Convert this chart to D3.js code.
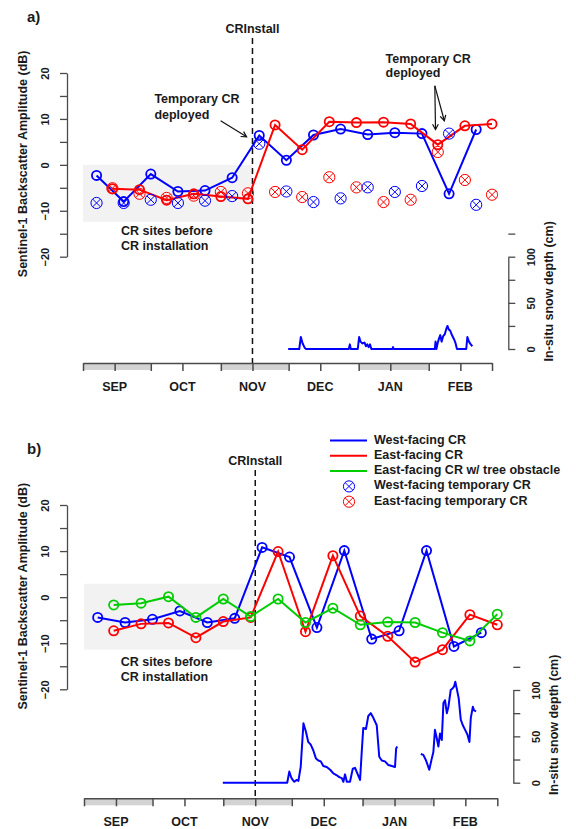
<!DOCTYPE html>
<html>
<head>
<meta charset="utf-8">
<script src="https://cdn.jsdelivr.net/npm/d3@7"></script>
<style>
  body { margin: 0; background: #fff; }
  svg text { font-family: "Liberation Sans", Arial, sans-serif; font-weight: bold; fill: #1a1a1a; }
</style>
</head>
<body>
<svg id="chart" width="576" height="829"></svg>
<script>
'use strict';

const parseDate = d3.timeParse('%Y-%m-%d');

const seasonStart = parseDate('2018-09-01');
const seasonEnd = parseDate('2019-03-01');
const crInstall = parseDate('2018-11-15');

const monthLabels = ['SEP', 'OCT', 'NOV', 'DEC', 'JAN', 'FEB'];
const dbTicks = [-20, -15, -10, -5, 0, 5, 10, 15, 20];
const snowTicks = [0, 25, 50, 75, 100, 125];

// acquisition dates (12 day repeat)
const westDates = ['2018-09-07', '2018-09-19', '2018-10-01', '2018-10-13', '2018-10-25', '2018-11-06', '2018-11-18',
    '2018-11-30', '2018-12-12', '2018-12-24', '2019-01-05', '2019-01-17', '2019-01-29', '2019-02-10', '2019-02-22'];
const eastDates = ['2018-09-14', '2018-09-26', '2018-10-08', '2018-10-20', '2018-11-01', '2018-11-13', '2018-11-25',
    '2018-12-07', '2018-12-19', '2018-12-31', '2019-01-12', '2019-01-24', '2019-02-05', '2019-02-17', '2019-03-01'];

// panel a
const westA = [-2.3, -8.0, -2.0, -5.8, -5.6, -2.8, 6.4, 1.0, 6.5, 7.8, 6.6, 7.0, 6.8, -6.3, 7.7];
const eastA = [-5.2, -5.4, -7.7, -6.3, -6.9, -7.4, 8.7, 3.3, 9.4, 9.2, 9.3, 8.9, 4.4, 8.5, 8.9];
const westTempA = [-8.3, -8.3, -7.6, -8.3, -7.8, -6.8, 4.6, -5.8, -8.1, -7.3, -4.9, -5.9, -4.6, 6.8, -8.7];
const eastTempA = [-5.1, -6.3, -7.2, -6.7, -5.9, -6.2, -5.9, -7.0, -2.7, -4.9, -8.1, -7.6, 2.8, -3.3, -6.5];

// panel b
const westB = [-4.4, -5.5, -4.8, -3.0, -5.5, -4.6, 10.8, 8.7, -6.6, 10.1, -9.1, -7.3, 10.1, -10.7, -7.7];
const eastB = [-7.3, -5.8, -5.6, -8.8, -5.3, -4.4, 9.9, -7.5, 9.0, -4.1, -8.5, -14.1, -11.4, -3.8, -6.0];
const treeB = [-1.7, -1.3, 0.1, -4.4, -0.4, -4.2, -0.4, -5.5, -2.4, -6.0, -5.4, -5.5, -7.7, -9.5, -3.7];

// in-situ snow depth: [days since Sep 1, cm], null = gap
const snowA = [[90.8, 0], [95.7, 0], [96.4, 13], [97.2, 6], [98.2, 1], [98.7, 0], [117.6, 0], [118.1, 5], [118.5, 0],
    [121.6, 0], [122.2, 13], [122.8, 8], [123.7, 6], [124.6, 7], [125.2, 3], [125.8, 5], [126.4, 2], [127, 5],
    [127.6, 0], [136.9, 0], [137.2, 2], [137.5, 0], [155.7, 0], [156, 8], [156.4, 0], [156.9, 6], [157.5, 11],
    [158.1, 15], [158.7, 8], [159.4, 14], [160.1, 16], [160.8, 22], [161.3, 25], [161.9, 21], [162.5, 20],
    [163.1, 16], [163.7, 13], [164.3, 10], [164.9, 6], [165.5, 0], [169.6, 0], [170.1, 13], [170.8, 8],
    [171.6, 5], [172.3, 3]];
const snowB = [[60.8, 0], [89.0, 0], [89.9, 12], [90.7, 6], [91.4, 3], [92.1, 1], [93.2, 3], [93.9, 2], [94.9, 17],
    [96.1, 64], [97.2, 55], [98.2, 44], [99.3, 41], [100.4, 35], [101.6, 26], [102.6, 24], [103.7, 23], [104.8, 18],
    [106.3, 17], [107.8, 14], [109.2, 10], [110.7, 8], [111.8, 6], [112.9, 5], [113.6, 1], [114.3, 9], [115.1, 1],
    [116.5, 1], [117.7, 15], [118.7, 16], [119.7, 10], [120.9, 3], [121.6, 32], [122.3, 59], [123.5, 58],
    [124.5, 72], [125.6, 75], [126.7, 70], [128.2, 62], [129.3, 28], [130.4, 24], [131.8, 23], [133.3, 19],
    [134.8, 18], [136.2, 17], [136.7, 37], [137.2, 39], null,
    [147.5, 31], [148.6, 30], [149.8, 24], [151.2, 14], [152.3, 26], [153, 33], [153.7, 57], [154.5, 48],
    [155.2, 39], [155.9, 53], [156.7, 46], [157.4, 86], [158.1, 89], [158.9, 75], [159.6, 82], [160.6, 100],
    [161.5, 102], [162.1, 104], [162.6, 109], [163.2, 102], [164.1, 91], [165, 68], [165.9, 62], [166.9, 57],
    [167.9, 52], [168.8, 44], [169.4, 70], [170.3, 82], [170.8, 78], [171.7, 77]];

const legendLabels = ['West-facing CR', 'East-facing CR', 'East-facing CR w/ tree obstacle',
    'West-facing temporary CR', 'East-facing temporary CR'];

const BLUE = '#0000ff';
const RED = '#ff0000';
const GREEN = '#00cd00';
const AXIS = '#4a4a4a';

const svg = d3.select('#chart');

function dayToDate(d) {
    return new Date(seasonStart.getTime() + d * 86400000);
}

function drawPanel(p) {
    const g = svg.append('g');
    const x = d3.scaleTime().domain([seasonStart, seasonEnd]).range(p.xRange);
    const y = d3.scaleLinear().domain([-20, 20]).range(p.yRange);
    const ySnow = d3.scaleLinear().domain([0, 100]).range(p.snowRange);

    // grey area before CR installation
    g.append('rect')
        .attr('x', x(seasonStart))
        .attr('width', x(crInstall) - x(seasonStart))
        .attr('y', y(p.shade[0]))
        .attr('height', y(p.shade[1]) - y(p.shade[0]))
        .attr('fill', '#f2f2f2');

    // left axis
    const yAxis = d3.axisLeft(y).tickValues(dbTicks).tickSize(7).tickSizeOuter(0)
        .tickFormat(d => d % 10 === 0 ? d3.format('d')(d) : '');
    const ya = g.append('g').attr('transform', `translate(${p.leftX},0)`).call(yAxis);
    ya.selectAll('path, line').attr('stroke', AXIS).attr('stroke-width', 1.3);
    ya.selectAll('text')
        .attr('x', null).attr('dy', null)
        .attr('transform', 'translate(-22,0) rotate(-90)')
        .attr('text-anchor', 'middle')
        .attr('dominant-baseline', 'central')
        .style('font-size', '11px');

    g.append('text')
        .attr('transform', `translate(23,${y(0) - 1}) rotate(-90)`)
        .attr('text-anchor', 'middle')
        .attr('dominant-baseline', 'central')
        .style('font-size', '12.5px')
        .text('Sentinel-1 Backscatter Amplitude (dB)');

    // right axis (snow depth)
    const sAxis = d3.axisRight(ySnow).tickValues(snowTicks).tickSize(7).tickSizeOuter(0)
        .tickFormat(d => d % 50 === 0 ? d : '');
    const sa = g.append('g').attr('transform', `translate(${p.rightX},0)`).call(sAxis);
    sa.selectAll('path, line').attr('stroke', AXIS).attr('stroke-width', 1.3);
    sa.selectAll('text')
        .attr('x', null).attr('dy', null)
        .attr('transform', 'translate(23,0) rotate(-90)')
        .attr('text-anchor', 'middle')
        .attr('dominant-baseline', 'central')
        .style('font-size', '11px');

    g.append('text')
        .attr('transform', `translate(${p.rightX + 41},${ySnow(62.5)}) rotate(-90)`)
        .attr('text-anchor', 'middle')
        .attr('dominant-baseline', 'central')
        .style('font-size', '12.5px')
        .text('In-situ snow depth (cm)');

    // bottom time axis with shaded months
    const months = d3.timeMonth.range(seasonStart, seasonEnd);
    months.forEach((m, i) => {
        if (i % 2 === 0) {
            g.append('rect')
                .attr('x', x(m))
                .attr('width', x(d3.timeMonth.offset(m, 1)) - x(m))
                .attr('y', p.axisY)
                .attr('height', 7)
                .attr('fill', '#d3d3d3');
        }
    });
    const midMonths = months.map(m => d3.timeDay.offset(m, 14));
    const xAxis = d3.axisBottom(x)
        .tickValues(months.concat([seasonEnd], midMonths))
        .tickSize(8).tickSizeOuter(0).tickFormat('');
    const xa = g.append('g').attr('transform', `translate(0,${p.axisY})`).call(xAxis);
    xa.selectAll('path, line').attr('stroke', AXIS).attr('stroke-width', 1.5);

    g.selectAll('.month')
        .data(midMonths)
        .join('text')
        .attr('x', d => x(d))
        .attr('y', p.axisY + 24)
        .attr('text-anchor', 'middle')
        .attr('dominant-baseline', 'central')
        .style('font-size', '12.5px')
        .text((d, i) => monthLabels[i]);

    // CR install line
    g.append('line')
        .attr('x1', x(crInstall)).attr('x2', x(crInstall))
        .attr('y1', y(20) - 35).attr('y2', p.axisY)
        .attr('stroke', '#111').attr('stroke-width', 1.5)
        .attr('stroke-dasharray', '6,4');
    g.append('text')
        .attr('x', x(crInstall))
        .attr('y', y(20) - 44)
        .attr('text-anchor', 'middle')
        .attr('dominant-baseline', 'central')
        .style('font-size', '12.5px')
        .text('CRInstall');

    g.append('text')
        .attr('x', 27).attr('y', y(20) - 57)
        .attr('dominant-baseline', 'central')
        .style('font-size', '15px')
        .text(p.tag);

    g.append('text')
        .attr('x', x(dayToDate(p.noteDay)))
        .attr('y', y(p.noteDb[0]))
        .attr('dominant-baseline', 'central')
        .style('font-size', '12.5px')
        .text('CR sites before');
    g.append('text')
        .attr('x', x(dayToDate(p.noteDay)))
        .attr('y', y(p.noteDb[1]))
        .attr('dominant-baseline', 'central')
        .style('font-size', '12.5px')
        .text('CR installation');

    // snow depth
    const snowLine = d3.line()
        .defined(d => d !== null)
        .x(d => x(dayToDate(d[0])))
        .y(d => ySnow(d[1]));
    g.append('path')
        .attr('d', snowLine(p.snow))
        .attr('fill', 'none')
        .attr('stroke', BLUE)
        .attr('stroke-width', 2)
        .attr('stroke-linejoin', 'round');

    // backscatter series
    const bsLine = d3.line().x(d => x(d.date)).y(d => y(d.v));
    p.series.forEach(s => {
        const pts = s.values.map((v, i) => ({ date: parseDate(s.dates[i]), v: v }));
        g.append('path')
            .attr('d', bsLine(pts))
            .attr('fill', 'none')
            .attr('stroke', s.color)
            .attr('stroke-width', 2);
        g.selectAll(null)
            .data(pts)
            .join('circle')
            .attr('cx', d => x(d.date))
            .attr('cy', d => y(d.v))
            .attr('r', 4.6)
            .attr('fill', 'none')
            .attr('stroke', s.color)
            .attr('stroke-width', 1.8);
    });

    (p.temps || []).forEach(s => {
        s.values.forEach((v, i) => {
            drawTempMarker(g, x(parseDate(s.dates[i])), y(v), s.color);
        });
    });

    return { x: x, y: y, g: g };
}

function drawTempMarker(g, cx, cy, color) {
    const r = 5.6;
    const k = r * 0.707;
    g.append('circle')
        .attr('cx', cx).attr('cy', cy).attr('r', r)
        .attr('fill', 'none').attr('stroke', color).attr('stroke-width', 1);
    g.append('path')
        .attr('d', `M${cx - k},${cy - k}L${cx + k},${cy + k}M${cx - k},${cy + k}L${cx + k},${cy - k}`)
        .attr('stroke', color).attr('stroke-width', 1);
}

// R style arrow: open V head
function arrow(g, x1, y1, x2, y2) {
    const ang = Math.atan2(y2 - y1, x2 - x1);
    const h = 6;
    g.append('line')
        .attr('x1', x1).attr('y1', y1).attr('x2', x2).attr('y2', y2)
        .attr('stroke', '#111').attr('stroke-width', 1.2);
    g.append('path')
        .attr('d', `M${x2 - h * Math.cos(ang - 0.5)},${y2 - h * Math.sin(ang - 0.5)}` +
            `L${x2},${y2}L${x2 - h * Math.cos(ang + 0.5)},${y2 - h * Math.sin(ang + 0.5)}`)
        .attr('fill', 'none').attr('stroke', '#111').attr('stroke-width', 1.2);
}

const panelA = drawPanel({
    tag: 'a)',
    xRange: [83, 492],
    yRange: [256.7, 73],
    snowRange: [349, 256.7],
    leftX: 67,
    rightX: 508.3,
    axisY: 363,
    shade: [0, -12.4],
    noteDay: 16.8,
    noteDb: [-14.3, -17.6],
    snow: snowA,
    series: [
        { dates: westDates, values: westA, color: BLUE },
        { dates: eastDates, values: eastA, color: RED }
    ],
    temps: [
        { dates: westDates, values: westTempA, color: BLUE },
        { dates: eastDates, values: eastTempA, color: RED }
    ]
});

// "Temporary CR deployed" notes on panel a
[[31.6, 14.4, 10.9], [133.9, 23.1, 20.0]].forEach(n => {
    panelA.g.append('text')
        .attr('x', panelA.x(dayToDate(n[0]))).attr('y', panelA.y(n[1]))
        .attr('dominant-baseline', 'central').style('font-size', '12.5px')
        .text('Temporary CR');
    panelA.g.append('text')
        .attr('x', panelA.x(dayToDate(n[0]))).attr('y', panelA.y(n[2]))
        .attr('dominant-baseline', 'central').style('font-size', '12.5px')
        .text('deployed');
});
[[60.9, 9.6, 72.4, 6.1], [155.7, 17.2, 156, 7.7], [155.7, 17.2, 159.9, 9.6]].forEach(a => {
    arrow(panelA.g, panelA.x(dayToDate(a[0])), panelA.y(a[1]), panelA.x(dayToDate(a[2])), panelA.y(a[3]));
});

drawPanel({
    tag: 'b)',
    xRange: [84, 497.3],
    yRange: [689.3, 505],
    snowRange: [782.7, 690],
    leftX: 67,
    rightX: 513.3,
    axisY: 798.3,
    shade: [2.9, -11.4],
    noteDay: 16.1,
    noteDb: [-14.1, -17.4],
    snow: snowB,
    series: [
        { dates: westDates, values: westB, color: BLUE },
        { dates: eastDates, values: eastB, color: RED },
        { dates: eastDates, values: treeB, color: GREEN }
    ]
});

// legend (panel b)
const legend = svg.append('g').attr('transform', 'translate(330,440.5)');
const legendColors = [BLUE, RED, GREEN, BLUE, RED];
legendLabels.forEach((lab, i) => {
    const ly = i * 15.3;
    if (i < 3) {
        legend.append('line')
            .attr('x1', 0).attr('x2', 37).attr('y1', ly).attr('y2', ly)
            .attr('stroke', legendColors[i]).attr('stroke-width', 2);
    } else {
        drawTempMarker(legend, 19, ly, legendColors[i]);
    }
    legend.append('text')
        .attr('x', 44).attr('y', ly - 1)
        .attr('dominant-baseline', 'central')
        .style('font-size', '12.5px')
        .text(lab);
});
</script>
</body>
</html>
